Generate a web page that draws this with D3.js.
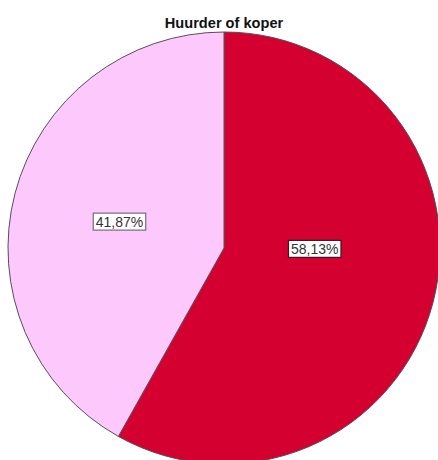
<!DOCTYPE html>
<html>
<head>
<meta charset="utf-8">
<script src="https://cdn.jsdelivr.net/npm/d3@7"></script>
<style>
  html, body { margin: 0; padding: 0; background: #fff; }
  svg { display: block; }
</style>
</head>
<body>
<svg id="chart" width="438" height="460"></svg>
<script>
// Huurder of koper — share of respondents
const categories = ["koper", "huurder"];
const values = [58.13, 41.87];
const labels = ["58,13%", "41,87%"];
const colors = ["#d30030", "#fdc9fd"];

const W = 438, H = 460;
const cx = 224, cy = 248, R = 216;

const svg = d3.select("#chart");

svg.append("text")
  .attr("x", cx)
  .attr("y", 28)
  .attr("text-anchor", "middle")
  .attr("font-family", "Liberation Sans, Arial, sans-serif")
  .attr("font-weight", "bold")
  .attr("font-size", 14.6)
  .attr("fill", "#111")
  .text("Huurder of koper");

const pie = d3.pie().sort(null).value(d => d);
const arcs = pie(values);
const arc = d3.arc().innerRadius(0).outerRadius(R);

const g = svg.append("g").attr("transform", `translate(${cx},${cy})`);

g.selectAll("path.slice")
  .data(arcs)
  .join("path")
  .attr("class", "slice")
  .attr("d", arc)
  .attr("fill", (d, i) => colors[i])
  .attr("stroke", "#5a4a5a")
  .attr("stroke-width", 1);

// label anchor: angle within the slice (0 = start, 1 = end) and radial fraction
const labelLayout = [{ t: 0.43, f: 0.42 }, { t: 0.5, f: 0.5 }];

arcs.forEach((d, i) => {
  const L = labelLayout[i];
  const a = d.startAngle + (d.endAngle - d.startAngle) * L.t;
  const x = Math.sin(a) * R * L.f;
  const y = -Math.cos(a) * R * L.f;
  const lg = g.append("g").attr("transform", `translate(${x},${y + 1})`);
  const t = lg.append("text")
    .attr("text-anchor", "middle")
    .attr("dy", "0.35em")
    .attr("font-family", "Liberation Sans, Arial, sans-serif")
    .attr("font-size", 14)
    .attr("fill", "#333")
    .text(labels[i]);
  const bb = t.node().getBBox();
  lg.insert("rect", "text")
    .attr("x", bb.x - 2.5)
    .attr("y", bb.y - 0.5)
    .attr("width", bb.width + 5)
    .attr("height", bb.height + 1)
    .attr("fill", "#fff")
    .attr("stroke", i === 0 ? "#3a1a22" : "#7a6a7a")
    .attr("stroke-width", 1.2);
});
</script>
</body>
</html>
